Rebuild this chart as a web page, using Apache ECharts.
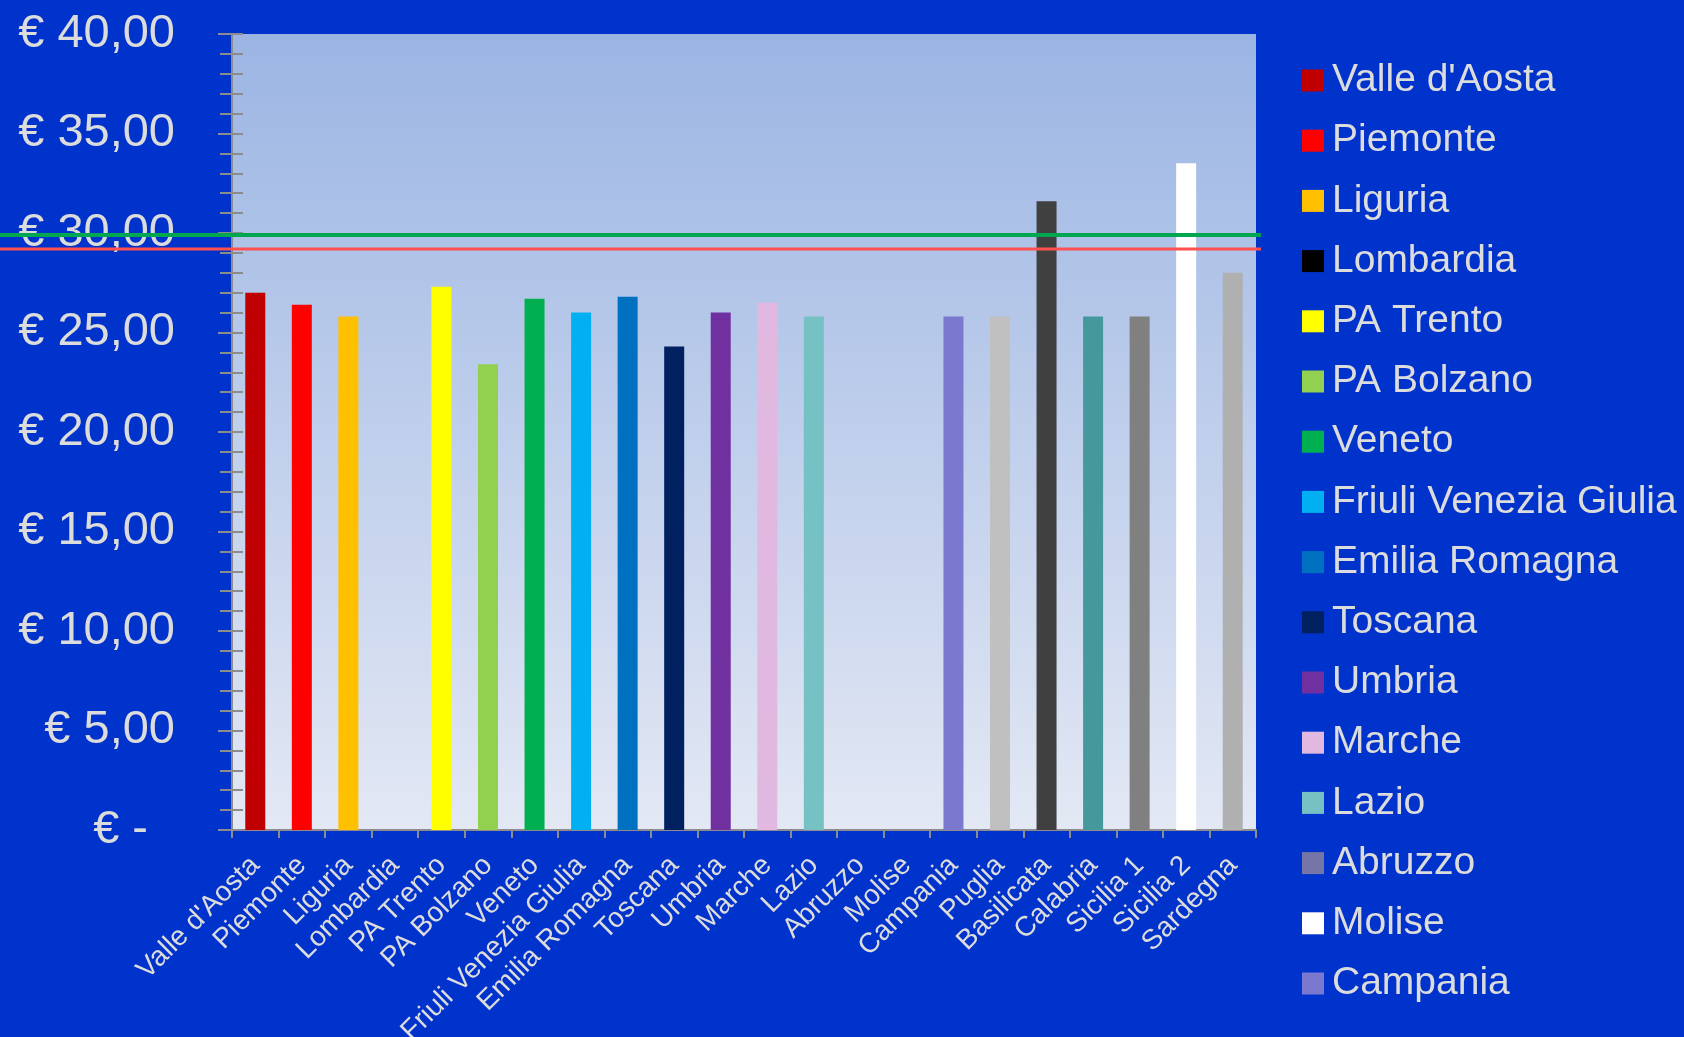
<!DOCTYPE html>
<html>
<head>
<meta charset="utf-8">
<style>
  html, body { margin: 0; padding: 0; background: #0033CC; }
  #chart { width: 1684px; height: 1037px; }
</style>
<script src="https://cdn.jsdelivr.net/npm/echarts@6/dist/echarts.min.js"></script>
</head>
<body>
<div id="chart"></div>
<script>
// Regions (one bar each)
const regions = [
  "Valle d'Aosta", "Piemonte", "Liguria", "Lombardia", "PA Trento", "PA Bolzano",
  "Veneto", "Friuli Venezia Giulia", "Emilia Romagna", "Toscana", "Umbria", "Marche",
  "Lazio", "Abruzzo", "Molise", "Campania", "Puglia", "Basilicata", "Calabria",
  "Sicilia 1", "Sicilia 2", "Sardegna"
];

// Price per region in euro ('-' = no value)
const prices = [
  27.0, 26.4, 25.8, '-', 27.3, 23.4,
  26.7, 26.0, 26.8, 24.3, 26.0, 26.5,
  25.8, '-', '-', 25.8, 25.8, 31.6, 25.8,
  25.8, 33.5, 28.0
];

const regionColors = [
  '#C00000', '#FF0000', '#FFC000', '#000000', '#FFFF00', '#92D050',
  '#00B050', '#00B0F0', '#0070C0', '#002060', '#7030A0', '#E0B8E0',
  '#75C1C4', '#7575A8', '#FFFFFF', '#7B78D0', '#C0C0C0', '#404040', '#45999D',
  '#808080', '#FFFFFF', '#B0B0B0'
];

// Legend entries shown on the right
const legendNames = regions.slice(0, 16);

// Reference levels drawn across the whole width
const refLevels = [29.9, 29.2];
const refColors = ['#00A650', '#FF5050'];
const refWidths = [4, 3];

// Value axis range
const yMin = 0, yMax = 40, yStep = 5;

const FONT = "'Liberation Sans', Arial, sans-serif";
const TEXT = '#DCDCDC';
const AXIS = '#8C8C8C';

function euro(v) {
  if (v === 0) return '{z|€ -}';
  return '€ ' + v.toFixed(2).replace('.', ',');
}

const barSeries = regions.map((name, i) => ({
  type: 'bar',
  name: name,
  stack: 'all',
  barWidth: 20,
  xAxisIndex: 0,
  yAxisIndex: 0,
  itemStyle: { color: regionColors[i] },
  data: regions.map((_, j) => (j === i ? prices[i] : '-'))
}));

const refSeries = refLevels.map((v, k) => ({
  type: 'line',
  xAxisIndex: 1,
  yAxisIndex: 2,
  z: 10,
  symbol: 'none',
  silent: true,
  lineStyle: { color: refColors[k], width: refWidths[k] },
  data: [[0, v], [1, v]]
}));

const chart = echarts.init(document.getElementById('chart'), null, { renderer: 'canvas' });

chart.setOption({
  backgroundColor: '#0033CC',
  animation: false,
  textStyle: { fontFamily: FONT },
  grid: [
    {
      left: 232, right: 428, top: 34, bottom: 207,
      containLabel: false,
      outerBoundsMode: 'none',
      show: true, borderWidth: 0,
      backgroundColor: new echarts.graphic.LinearGradient(0, 0, 0, 1, [
        { offset: 0, color: '#9BB5E3' },
        { offset: 1, color: '#E3E8F4' }
      ])
    },
    { left: 0, right: 423, top: 34, bottom: 207, containLabel: false, outerBoundsMode: 'none', show: false }
  ],
  legend: {
    data: legendNames,
    orient: 'vertical',
    left: 1297,
    top: 56,
    icon: 'rect',
    itemWidth: 22,
    itemHeight: 22,
    itemGap: 21.2,
    selectedMode: false,
    textStyle: { color: TEXT, fontSize: 39, lineHeight: 39, fontFamily: FONT, padding: [0, 0, 0, 3] }
  },
  xAxis: [
    {
      type: 'category',
      gridIndex: 0,
      data: regions,
      boundaryGap: true,
      axisLine: { show: true, lineStyle: { color: AXIS, width: 2 } },
      axisTick: { show: true, length: 8, lineStyle: { color: AXIS, width: 2 } },
      axisLabel: {
        interval: 0,
        rotate: 45,
        margin: 31,
        color: TEXT,
        fontSize: 28,
        fontFamily: FONT
      },
      splitLine: { show: false }
    },
    { type: 'value', gridIndex: 1, min: 0, max: 1, show: false }
  ],
  yAxis: [
    {
      type: 'value',
      gridIndex: 0,
      min: yMin, max: yMax, interval: yStep,
      axisLine: { show: true, lineStyle: { color: AXIS, width: 2 } },
      axisTick: { show: true, inside: false, length: 14, lineStyle: { color: AXIS, width: 2 } },
      minorTick: { show: true, splitNumber: 5, length: 12, lineStyle: { color: AXIS, width: 2 } },
      axisLabel: {
        margin: 57,
        color: TEXT,
        fontSize: 47,
        fontFamily: FONT,
        formatter: euro,
        rich: { z: { fontSize: 47, color: TEXT, fontFamily: FONT, padding: [0, 27, 0, 0] } }
      },
      splitLine: { show: false }
    },
    {
      type: 'value',
      gridIndex: 0,
      min: yMin, max: yMax, interval: yStep,
      position: 'left',
      axisLine: { show: false },
      axisTick: { show: true, inside: true, length: 11, lineStyle: { color: AXIS, width: 2 } },
      minorTick: { show: true, splitNumber: 5, length: 11, lineStyle: { color: AXIS, width: 2 } },
      axisLabel: { show: false },
      splitLine: { show: false }
    },
    { type: 'value', gridIndex: 1, min: yMin, max: yMax, show: false }
  ],
  series: barSeries.concat(refSeries)
});
</script>
</body>
</html>
